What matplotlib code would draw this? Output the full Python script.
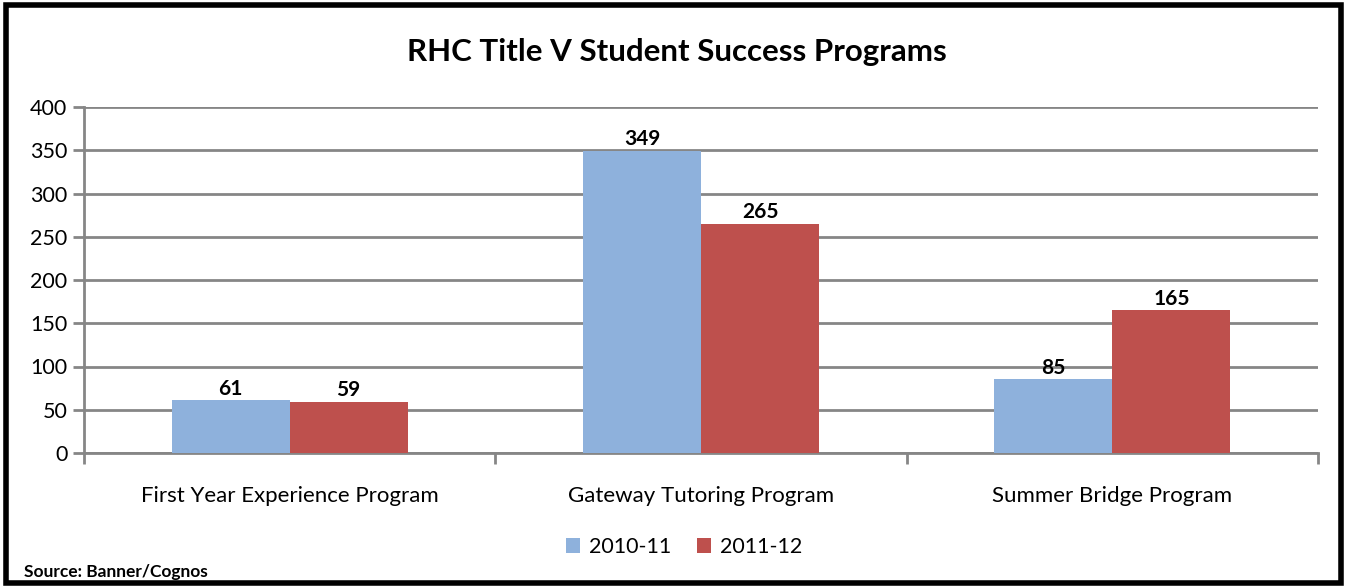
import numpy as np
import matplotlib.pyplot as plt
from matplotlib.patches import Rectangle

programas = ['First Year Experience Program', 'Gateway Tutoring Program', 'Summer Bridge Program']
anios = ['2010-11', '2011-12']
valores_2010 = [61, 349, 85]
valores_2011 = [59, 265, 165]
yticks = [0, 50, 100, 150, 200, 250, 300, 350, 400]

azul = '#8EB1DC'
rojo = '#BE504D'
gris = '#868686'

plt.rcParams['font.family'] = ['Lato', 'DejaVu Sans']

fig = plt.figure(figsize=(13.48, 5.88), dpi=100)
ax = fig.add_axes([84/1348, 1-453/588, (1318-84)/1348, (453-107)/588])

x = np.arange(len(programas))
ancho = 0.287
b1 = ax.bar(x - ancho/2, valores_2010, ancho, color=azul, label=anios[0], zorder=3)
b2 = ax.bar(x + ancho/2, valores_2011, ancho, color=rojo, label=anios[1], zorder=3)

for barras in (b1, b2):
    for b in barras:
        ax.text(b.get_x() + b.get_width()/2, b.get_height() + 2, str(int(b.get_height())),
                ha='center', va='bottom', fontsize=15, fontweight='bold', zorder=4)

ax.set_xlim(-0.5, 2.5)
ax.set_ylim(0, 400)
ax.set_yticks(yticks)
ax.set_yticklabels([str(v) for v in yticks], fontsize=15.5)
ax.yaxis.grid(True, color=gris, linewidth=2, zorder=0)
ax.tick_params(axis='y', length=8, width=2, color=gris, pad=4)

ax.set_xticks(x)
ax.set_xticklabels(programas, fontsize=16)
ax.tick_params(axis='x', length=0, pad=24)
# marcas entre categorias
ax.set_xticks([-0.5, 0.5, 1.5, 2.5], minor=True)
ax.tick_params(axis='x', which='minor', length=8, width=2, color=gris)

for lado in ['top', 'right']:
    ax.spines[lado].set_visible(False)
ax.spines['left'].set_color(gris)
ax.spines['left'].set_linewidth(2)
ax.spines['bottom'].set_color(gris)
ax.spines['bottom'].set_linewidth(2)

fig.text(677/1348, 1-52/588, 'RHC Title V Student Success Programs', ha='center', va='center',
         fontsize=22.5, fontweight='bold')
fig.legend(handles=[b1, b2], labels=anios, loc='center', bbox_to_anchor=(684/1348, 1-547/588),
           ncol=2, frameon=False, fontsize=15.5, handlelength=0.65, handleheight=0.65,
           columnspacing=1.2, handletextpad=0.4)
fig.text(24/1348, 1-572/588, 'Source: Banner/Cognos', ha='left', va='center',
         fontsize=12.5, fontweight='bold')

fig.patches.append(Rectangle((6/1348, 5/588), 1335/1348, 578/588, transform=fig.transFigure,
                             fill=False, edgecolor='black', linewidth=4))

fig.savefig('out.png', dpi=100)
